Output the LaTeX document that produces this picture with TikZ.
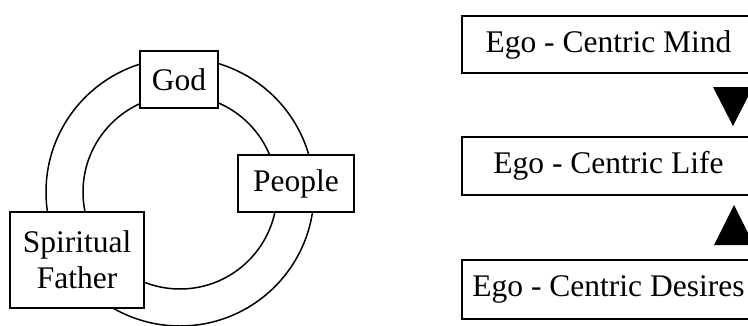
\documentclass[tikz,border=0pt]{standalone}
\usepackage{fontspec}
\setmainfont{Liberation Serif}
\begin{document}
\begin{tikzpicture}[x=1pt,y=-1pt,
  lbl/.style={draw=black,line width=1.5pt,fill=white,inner sep=0pt,align=center,
    font=\fontsize{31.5}{36}\selectfont},
  ring/.style={draw=black,line width=1.5pt},
  marker/.style={fill=black}]
\useasboundingbox (0,0) rectangle (748,325);
\clip (0,0) rectangle (748,325);
% rings
\coordinate (ctr) at (180,192);
\draw[ring] (ctr) circle[radius=134];
\draw[ring] (ctr) circle[radius=97];
% left boxes
\node[lbl,minimum width=78pt,minimum height=57pt] (god) at (179,79.5) {God};
\node[lbl,minimum width=116pt,minimum height=57pt] (people) at (296,183.5) {People};
\node[lbl,minimum width=134pt,minimum height=96pt] (father) at (77,260) {Spiritual\\Father};
% right boxes
\node[lbl,minimum width=293pt,minimum height=57pt] (mind) at (608.5,44.5) {Ego - Centric Mind};
\node[lbl,minimum width=293pt,minimum height=58pt] (life) at (608.5,166) {Ego - Centric Life};
\node[lbl,minimum width=293pt,minimum height=59pt] (desires) at (608.5,289.5) {Ego - Centric Desires};
% triangle markers
\fill[marker] (713,87) -- (753,87) -- (733,126) -- cycle;
\fill[marker] (714,245) -- (754,245) -- (734,205) -- cycle;
\end{tikzpicture}
\end{document}
